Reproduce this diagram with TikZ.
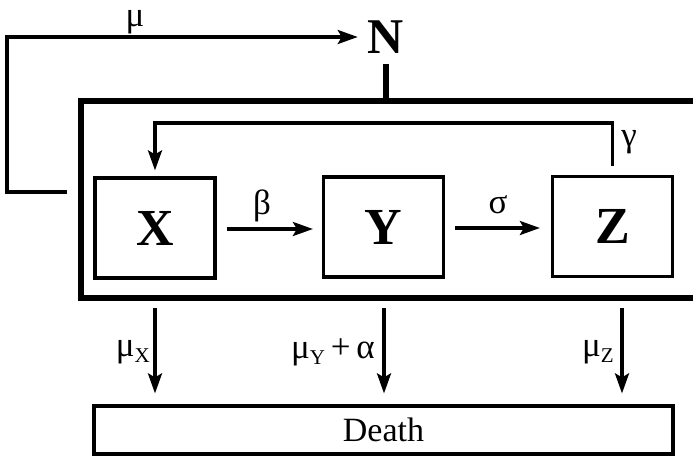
\documentclass[tikz,border=0pt]{standalone}
\usepackage{fontspec}
\setmainfont{Liberation Serif}
\usetikzlibrary{arrows.meta}
\newcommand\lowsub[1]{\raisebox{-0.4ex}{\fontsize{21}{21}\selectfont #1}}
\begin{document}
\begin{tikzpicture}[x=1pt,y=-1pt,
  thin line/.style={line width=3.2pt},
  arr/.style={thin line,-{Stealth[length=20pt,width=14pt,inset=4pt]}},
  compbox/.style={draw,thin line,minimum width=120pt,minimum height=100pt,inner sep=0pt,font=\fontsize{52}{52}\selectfont\bfseries},
  greek/.style={font=\fontsize{35}{35}\selectfont,inner sep=0pt}]
\useasboundingbox (0,0) rectangle (693,458);
% big box
\node[draw,line width=6pt,minimum width=650pt,minimum height=197pt,anchor=north west,inner sep=0pt] (sys) at (78,98) {};
% N
\node[font=\fontsize{50}{50}\selectfont\bfseries,inner sep=0pt] (N) at (386,37) {N};
\draw[line width=6pt] ([yshift=-10pt]N.south) -- (N.south |- sys.north);
% compartments
\node[compbox] (X) at (155,228) {X};
\node[compbox] (Y) at (383.5,227) {Y};
\node[compbox] (Z) at (612.5,226.5) {Z};
% death
\node[draw,thin line,minimum width=579pt,minimum height=48pt,inner sep=0pt,font=\fontsize{34}{34}\selectfont] (D) at (383.5,430) {Death};
% mu loop
\coordinate (muS) at (67,192);
\draw[arr,shorten >=10pt] (muS) -- (7,192) |- (N.west);
\node[greek] (mu) at (135,22) {μ};
% transitions
\draw[arr,shorten <=10pt,shorten >=9pt] (X.east |- 0,229) -- (Y.west |- 0,229);
\node[greek] (beta) at (262,206) {β};
\draw[arr,shorten <=10pt,shorten >=11pt] (Y.east |- 0,228) -- (Z.west |- 0,228);
\node[greek] (sigma) at (498,205) {σ};
% gamma loop
\draw[arr,shorten <=9pt,shorten >=6pt] (Z.north) -- (612.5,123) -| (X.north);
\node[greek] (gamma) at (629,142) {γ};
% deaths
\coordinate (dX) at (155,308);
\coordinate (dY) at (384,308);
\coordinate (dZ) at (622,308);
\draw[arr,shorten >=11pt] (dX) -- (dX |- D.north);
\draw[arr,shorten >=11pt] (dY) -- (dY |- D.north);
\draw[arr,shorten >=11pt] (dZ) -- (dZ |- D.north);
\node[greek,anchor=east] (lX) at (150,352) {μ\lowsub{X}};
\node[greek,anchor=east] (lY) at (375,352) {μ\lowsub{Y}\,+\,α};
\node[greek,anchor=east] (lZ) at (614,352) {μ\lowsub{Z}};
\end{tikzpicture}
\end{document}
